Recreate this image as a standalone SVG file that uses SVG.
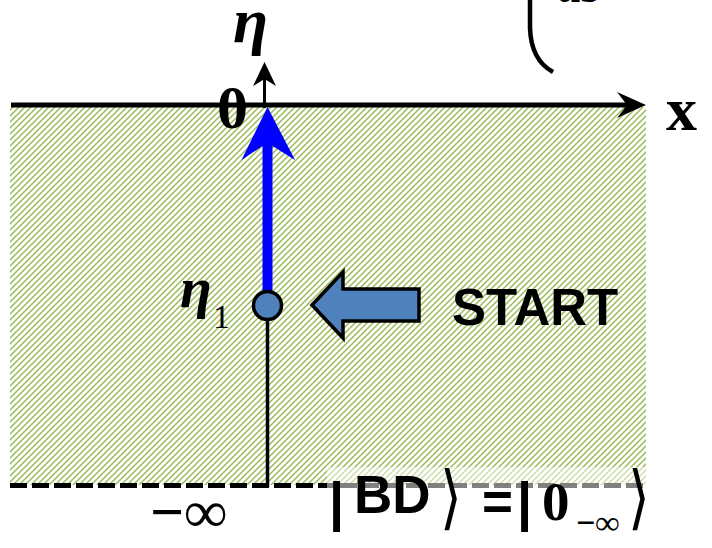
<svg xmlns="http://www.w3.org/2000/svg" width="712" height="548" viewBox="0 0 712 548">
<defs>
<pattern id="hatch" patternUnits="userSpaceOnUse" width="6" height="6">
<path d="M-1.5,1.5 L1.5,-1.5 M0,6 L6,0 M4.5,7.5 L7.5,4.5" stroke="#9bbb59" stroke-width="1.5"/>
</pattern>
<style>
.serif{font-family:"Liberation Serif","Times New Roman",serif}
.sans{font-family:"Liberation Sans",Arial,sans-serif}
.br{font-family:"DejaVu Sans",sans-serif}
</style>
</defs>
<rect width="712" height="548" fill="#fff"/>
<g id="region">
<rect x="10" y="107" width="636" height="378" fill="url(#hatch)"/>
</g>
<g id="connectors">
<line x1="10" y1="485.5" x2="646" y2="485.5" stroke="#000" stroke-width="5" stroke-dasharray="17 5"/>
<line x1="267.5" y1="318" x2="267.5" y2="487" stroke="#000" stroke-width="3.5"/>
<line x1="11" y1="105" x2="630" y2="105" stroke="#000" stroke-width="5"/>
<path d="M646,105 L617,92 L627,105 L617,118 Z" fill="#000"/>
<line x1="264.5" y1="75" x2="264.5" y2="108" stroke="#000" stroke-width="3"/>
<path d="M264.5,62 L276,86 L264.5,79 L253,86 Z" fill="#000"/>
<rect x="262.5" y="146" width="10" height="148" fill="#0000ff"/>
<path d="M267.5,107 L295,160 L272.5,146 L262.5,146 L241.5,160 Z" fill="#0000ff"/>
</g>
<g id="eta1-node">
<circle cx="267.5" cy="305.5" r="14" fill="#4f81bd" stroke="#000" stroke-width="3.5"/>
<text class="serif" font-style="italic" font-weight="bold" font-size="58" x="180" y="307">η</text>
<text class="serif" font-size="34" x="213" y="328">1</text>
</g>
<g id="start">
<path d="M312,305 L343,272 L343,289 L419,289 L419,321 L343,321 L343,338 Z" fill="#4f81bd" stroke="#000" stroke-width="3.5" stroke-linejoin="miter"/>
<text class="sans" font-weight="bold" font-size="51" x="452" y="325">START</text>
</g>
<g id="labels">
<text class="serif" font-style="italic" font-weight="bold" font-size="64" x="233" y="42">η</text>
<text class="serif" font-weight="bold" font-size="62" x="217" y="128">0</text>
<text class="serif" font-weight="bold" font-size="62" x="666" y="130">x</text>
<text class="serif" font-weight="bold" font-style="italic" font-size="48" x="558" y="2">as</text>
<path d="M530,0 L530,28 Q531,60 553,72" fill="none" stroke="#000" stroke-width="4.5"/>
<text class="serif" font-weight="bold" font-size="60" x="150" y="532">−∞</text>
</g>
<rect x="327" y="467" width="340" height="75" fill="#fff" fill-opacity="0.5"/>
<g id="bd-state">
<text class="sans" font-weight="bold" font-size="54" x="329" y="520">|</text>
<text class="sans" font-weight="bold" font-size="53" x="354" y="513">BD</text>
<text class="br" font-size="70" transform="translate(440,521) scale(0.8,1)" x="0" y="0">⟩</text>
<text class="sans" font-weight="bold" font-size="53" x="482" y="520">=</text>
<text class="sans" font-weight="bold" font-size="54" x="517" y="520">|</text>
<text class="serif" font-weight="bold" font-size="55" x="542" y="520">0</text>
<text class="serif" font-weight="bold" font-size="34" x="576" y="534">−∞</text>
<text class="br" font-size="70" transform="translate(628,521) scale(0.8,1)" x="0" y="0">⟩</text>
</g>
</svg>
